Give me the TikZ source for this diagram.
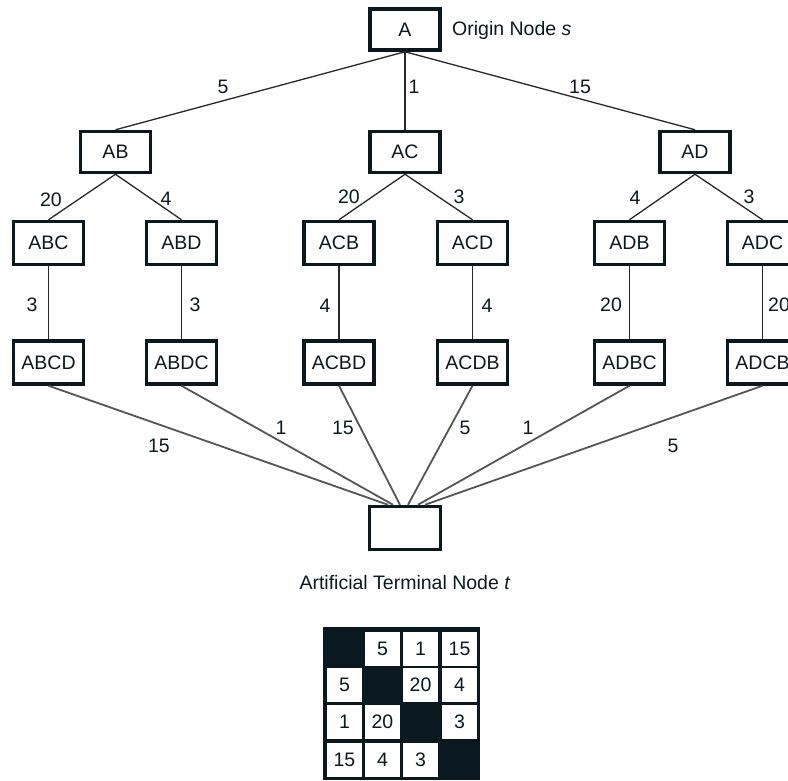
\documentclass[tikz,border=0pt]{standalone}
\usepackage{fontspec}
\setmainfont{Liberation Sans}
\definecolor{ink}{RGB}{10,24,32}
\definecolor{treeline}{RGB}{40,40,40}
\definecolor{fanline}{RGB}{85,85,85}
\begin{document}
\begin{tikzpicture}[x=1pt,y=-1pt,
  font=\fontsize{19.5}{23}\selectfont,
  box/.style={draw=ink, line width=3.5pt, minimum width=70pt, minimum height=41pt, inner sep=0pt, text=ink},
  boxtall/.style={box, minimum height=43pt},
  lbl/.style={inner sep=0pt, text=ink},
  tree/.style={draw=treeline, line width=1.3pt},
  fan/.style={draw=fanline, line width=1.8pt},
  cell/.style={fill=white, minimum width=35pt, minimum height=34pt, inner sep=0pt, text=ink}]
\useasboundingbox (0,0) rectangle (788,780);

% root and first level
\node[box] (A) at (405,29.5) {A};
\node[lbl, anchor=base west] (origin) at (452,35) {Origin Node \textit{s}};
\node[box] (AB) at (115.5,152) {AB};
\node[box] (AC) at (405,152) {AC};
\node[box] (AD) at (695,152) {AD};

% second level
\node[boxtall] (ABC) at (48.5,243) {ABC};
\node[boxtall] (ABD) at (181.5,243) {ABD};
\node[boxtall] (ACB) at (339,243) {ACB};
\node[boxtall] (ACD) at (472.5,243) {ACD};
\node[boxtall] (ADB) at (629.5,243) {ADB};
\node[boxtall] (ADC) at (762.5,243) {ADC};

% complete tours
\node[boxtall] (ABCD) at (48.5,362.5) {ABCD};
\node[boxtall] (ABDC) at (181.5,362.5) {ABDC};
\node[boxtall] (ACBD) at (339,362.5) {ACBD};
\node[boxtall] (ACDB) at (472.5,362.5) {ACDB};
\node[boxtall] (ADBC) at (629.5,362.5) {ADBC};
\node[boxtall] (ADCB) at (762.5,362.5) {ADCB};

% terminal node
\node[box, minimum width=71pt, minimum height=43pt] (t) at (405,528) {};
\node[lbl, anchor=base] (tlabel) at (405,589) {Artificial Terminal Node \textit{t}};

% tree edges
\draw[tree] (A.south) -- (AB.north);
\draw[tree] (A.south) -- (AC.north);
\draw[tree] (A.south) -- (AD.north);
\draw[tree] (AB.south) -- (ABC.north);
\draw[tree] (AB.south) -- (ABD.north);
\draw[tree] (AC.south) -- (ACB.north);
\draw[tree] (AC.south) -- (ACD.north);
\draw[tree] (AD.south) -- (ADB.north);
\draw[tree] (AD.south) -- (ADC.north);
\draw[tree] (ABC.south) -- (ABCD.north);
\draw[tree] (ABD.south) -- (ABDC.north);
\draw[tree] (ACB.south) -- (ACBD.north);
\draw[tree] (ACD.south) -- (ACDB.north);
\draw[tree] (ADB.south) -- (ADBC.north);
\draw[tree] (ADC.south) -- (ADCB.north);

% edges into the terminal node
\draw[fan] (ABCD.south) -- ([xshift=-17pt]t.north);
\draw[fan] (ABDC.south) -- ([xshift=-12pt]t.north);
\draw[fan] (ACBD.south) -- ([xshift=-5pt]t.north);
\draw[fan] (ACDB.south) -- ([xshift=3pt]t.north);
\draw[fan] (ADBC.south) -- ([xshift=13pt]t.north);
\draw[fan] (ADCB.south) -- ([xshift=20pt]t.north);

% edge weights
\node[lbl] (w1) at (223,87) {5};
\node[lbl] (w2) at (414,87) {1};
\node[lbl] (w3) at (580,87) {15};
\node[lbl] (w4) at (51,200) {20};
\node[lbl] (w5) at (166,199) {4};
\node[lbl] (w6) at (349,197) {20};
\node[lbl] (w7) at (459,197) {3};
\node[lbl] (w8) at (635,198) {4};
\node[lbl] (w9) at (749,197) {3};
\node[lbl] (w10) at (32,305) {3};
\node[lbl] (w11) at (195,305) {3};
\node[lbl] (w12) at (325,306) {4};
\node[lbl] (w13) at (487,306) {4};
\node[lbl] (w14) at (611,305) {20};
\node[lbl, anchor=west] (w15) at (768,305) {20};
\node[lbl] (w16) at (159,446) {15};
\node[lbl] (w17) at (281,428) {1};
\node[lbl] (w18) at (343,428) {15};
\node[lbl] (w19) at (465,428) {5};
\node[lbl] (w20) at (528,428) {1};
\node[lbl] (w21) at (673,446) {5};

% distance matrix
\fill[ink] (323,627) rectangle (480,780);
\node[cell] (m12) at (382.5,648.5) {5};
\node[cell] (m13) at (420.5,648.5) {1};
\node[cell] (m14) at (459.5,648.5) {15};
\node[cell] (m21) at (344.5,685) {5};
\node[cell] (m23) at (420.5,685) {20};
\node[cell] (m24) at (459.5,685) {4};
\node[cell] (m31) at (344.5,722) {1};
\node[cell] (m32) at (382.5,722) {20};
\node[cell] (m34) at (459.5,722) {3};
\node[cell] (m41) at (344.5,759.5) {15};
\node[cell] (m42) at (382.5,759.5) {4};
\node[cell] (m43) at (420.5,759.5) {3};
\end{tikzpicture}
\end{document}
